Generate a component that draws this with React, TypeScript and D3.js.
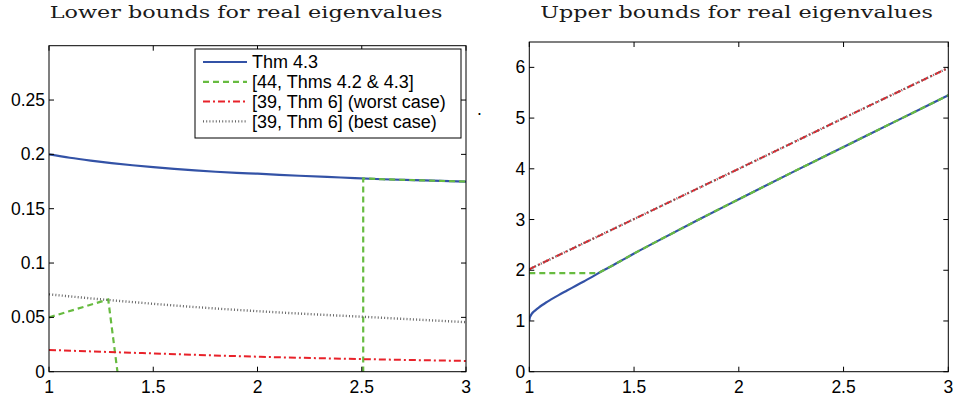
import React, { useLayoutEffect, useRef, useState } from "react";
import * as d3 from "d3";

// shared x ticks
const xTickVals = [1, 1.5, 2, 2.5, 3];
const xTickLabels = ["1", "1.5", "2", "2.5", "3"];

// left panel: lower bounds
const lowerYTicks = [0, 0.05, 0.1, 0.15, 0.2, 0.25];
const lowerYLabels = ["0", "0.05", "0.1", "0.15", "0.2", "0.25"];

const lowerThmX = [1.0, 1.1, 1.2, 1.3, 1.4, 1.5, 1.6, 1.7, 1.8, 1.9, 2.0, 2.2, 2.4, 2.6, 2.8, 3.0];
const lowerThmY = [0.2, 0.1969, 0.1943, 0.192, 0.19, 0.1882, 0.1866, 0.1852, 0.184, 0.183, 0.1822, 0.1803, 0.1787, 0.1771, 0.176, 0.175];

// null = gap in the dashed curve
const lowerRefX = [1.0, 1.284, 1.335, 1.335, 2.507, 2.507, 2.6, 2.8, 3.0];
const lowerRefY = [0.05, 0.0665, -0.01, null, -0.01, 0.1778, 0.1771, 0.176, 0.175];

const lowerWorstX = [1.0, 1.5, 2.0, 2.5, 3.0];
const lowerWorstY = [0.02, 0.0168, 0.0138, 0.0116, 0.0099];

const lowerBestX = [1.0, 1.25, 1.5, 1.75, 2.0, 2.25, 2.5, 2.75, 3.0];
const lowerBestY = [0.0712, 0.0666, 0.0625, 0.0588, 0.0557, 0.053, 0.0506, 0.0481, 0.0456];

// right panel: upper bounds
const upperYTicks = [0, 1, 2, 3, 4, 5, 6];
const upperYLabels = ["0", "1", "2", "3", "4", "5", "6"];

const upperThmX = [1.0, 1.002, 1.005, 1.01, 1.02, 1.03, 1.045, 1.06, 1.08, 1.1, 1.14, 1.18, 1.22, 1.26, 1.3, 1.35, 1.4, 1.45, 1.5, 1.6, 1.8, 2.0, 2.25, 2.5, 2.75, 3.0];
const upperThmY = [1.0, 1.06, 1.09, 1.13, 1.18, 1.215, 1.265, 1.31, 1.365, 1.415, 1.51, 1.6, 1.69, 1.78, 1.87, 1.99, 2.1, 2.215, 2.33, 2.55, 2.98, 3.4, 3.92, 4.43, 4.94, 5.45];

const upperRefX = [1.0, 1.33, 1.35, 1.4, 1.45, 1.5, 1.6, 1.8, 2.0, 2.25, 2.5, 2.75, 3.0];
const upperRefY = [1.945, 1.945, 1.99, 2.1, 2.215, 2.33, 2.55, 2.98, 3.4, 3.92, 4.43, 4.94, 5.45];

const upperWorstX = [1.0, 1.5, 2.0, 2.5, 3.0];
const upperWorstY = [2.02, 3.01, 4.0, 5.0, 5.99];

const upperBestX = [1.0, 1.5, 2.0, 2.5, 3.0];
const upperBestY = [2.02, 3.01, 4.0, 5.0, 5.99];

const legendLabels = ["Thm 4.3", "[44, Thms 4.2 & 4.3]", "[39, Thm 6] (worst case)", "[39, Thm 6] (best case)"];

const styles = [
  { color: "#3352a6", width: 2.2, dash: undefined as string | undefined },
  { color: "#67bb40", width: 2.2, dash: "6,4" },
  { color: "#e8222a", width: 2, dash: "7,3,2,3" },
  { color: "#666666", width: 2.4, dash: "1,2.2" },
];

const tickFont = "'Liberation Sans', Arial, sans-serif";

// serif title, stretched horizontally to the reference width
function Title({ cx, text }: { cx: number; text: string }) {
  const ref = useRef<SVGTextElement>(null);
  const [sx, setSx] = useState(1);
  useLayoutEffect(() => {
    if (ref.current) {
      const w = ref.current.getComputedTextLength();
      if (w > 0) setSx(393 / w);
    }
  }, [text]);
  return (
    <text
      ref={ref}
      transform={`translate(${cx},17.5) scale(${sx},1)`}
      textAnchor="middle"
      fontFamily="'DejaVu Serif', serif"
      fontSize={17}
      fill="#1a1a1a"
    >
      {text}
    </text>
  );
}

type PanelProps = {
  id: string;
  x0: number;
  x1: number;
  y0: number;
  y1: number;
  yMax: number;
  yTicks: number[];
  yLabels: string[];
  title: string;
  titleX: number;
  data: { xs: number[]; ys: (number | null)[]; smooth: boolean }[];
};

function Panel({ id, x0, x1, y0, y1, yMax, yTicks, yLabels, title, titleX, data }: PanelProps) {
  const x = d3.scaleLinear().domain([1, 3]).range([x0, x1]);
  const y = d3.scaleLinear().domain([0, yMax]).range([y1, y0]);
  const mk = (smooth: boolean) =>
    d3
      .line<[number, number | null]>()
      .defined((d) => d[1] !== null)
      .x((d) => x(d[0]))
      .y((d) => y(d[1] as number))
      .curve(smooth ? d3.curveMonotoneX : d3.curveLinear);
  const tl = 5;
  return (
    <g>
      <Title cx={titleX} text={title} />
      <clipPath id={id}>
        <rect x={x0} y={y0} width={x1 - x0} height={y1 - y0} />
      </clipPath>
      <g clipPath={`url(#${id})`} fill="none">
        {data.map((s, i) => (
          <path
            key={i}
            d={mk(s.smooth)(s.xs.map((v, k) => [v, s.ys[k]] as [number, number | null])) || ""}
            stroke={styles[i].color}
            strokeWidth={styles[i].width}
            strokeDasharray={styles[i].dash}
          />
        ))}
      </g>
      <g stroke="#000" strokeWidth={1}>
        {xTickVals.map((t) => (
          <g key={"x" + t}>
            <line x1={x(t)} x2={x(t)} y1={y1} y2={y1 - tl} />
            <line x1={x(t)} x2={x(t)} y1={y0} y2={y0 + tl} />
          </g>
        ))}
        {yTicks.map((t) => (
          <g key={"y" + t}>
            <line x1={x0} x2={x0 + tl} y1={y(t)} y2={y(t)} />
            <line x1={x1} x2={x1 - tl} y1={y(t)} y2={y(t)} />
          </g>
        ))}
        <rect x={x0} y={y0} width={x1 - x0} height={y1 - y0} fill="none" />
      </g>
      <g fontFamily={tickFont} fontSize={17.5} fill="#000">
        {xTickVals.map((t, i) => (
          <text key={"xl" + t} x={x(t)} y={y1 + 21} textAnchor="middle">
            {xTickLabels[i]}
          </text>
        ))}
        {yTicks.map((t, i) => (
          <text key={"yl" + t} x={x0 - 4} y={y(t)} dy="0.35em" textAnchor="end">
            {yLabels[i]}
          </text>
        ))}
      </g>
    </g>
  );
}

export default function App() {
  const lx = 195, ly = 49, lw = 266, lh = 89;
  return (
    <svg width={953} height={400} style={{ position: "absolute", left: 0, top: 0, background: "#fff" }}>
      <Panel
        id="clipLower"
        x0={49}
        x1={466}
        y0={45.7}
        y1={371.7}
        yMax={0.3}
        yTicks={lowerYTicks}
        yLabels={lowerYLabels}
        title="Lower bounds for real eigenvalues"
        titleX={246}
        data={[
          { xs: lowerThmX, ys: lowerThmY, smooth: true },
          { xs: lowerRefX, ys: lowerRefY, smooth: false },
          { xs: lowerWorstX, ys: lowerWorstY, smooth: true },
          { xs: lowerBestX, ys: lowerBestY, smooth: true },
        ]}
      />
      <Panel
        id="clipUpper"
        x0={529.3}
        x1={948.3}
        y0={42}
        y1={371.7}
        yMax={6.5}
        yTicks={upperYTicks}
        yLabels={upperYLabels}
        title="Upper bounds for real eigenvalues"
        titleX={736.5}
        data={[
          { xs: upperThmX, ys: upperThmY, smooth: true },
          { xs: upperRefX, ys: upperRefY, smooth: false },
          { xs: upperWorstX, ys: upperWorstY, smooth: false },
          { xs: upperBestX, ys: upperBestY, smooth: false },
        ]}
      />
      {/* legend */}
      <g>
        <rect x={lx} y={ly} width={lw} height={lh} fill="#fff" stroke="#000" strokeWidth={1} />
        {legendLabels.map((lab, i) => {
          const cy = 62 + i * 19.8;
          return (
            <g key={lab}>
              <line
                x1={203}
                x2={247}
                y1={cy}
                y2={cy}
                stroke={styles[i].color}
                strokeWidth={styles[i].width}
                strokeDasharray={styles[i].dash}
              />
              <text x={252} y={cy} dy="0.36em" fontFamily={tickFont} fontSize={18} fill="#000">
                {lab}
              </text>
            </g>
          );
        })}
      </g>
      <text x={477} y={115} fontFamily={tickFont} fontSize={17.5} fill="#000">
        .
      </text>
    </svg>
  );
}
